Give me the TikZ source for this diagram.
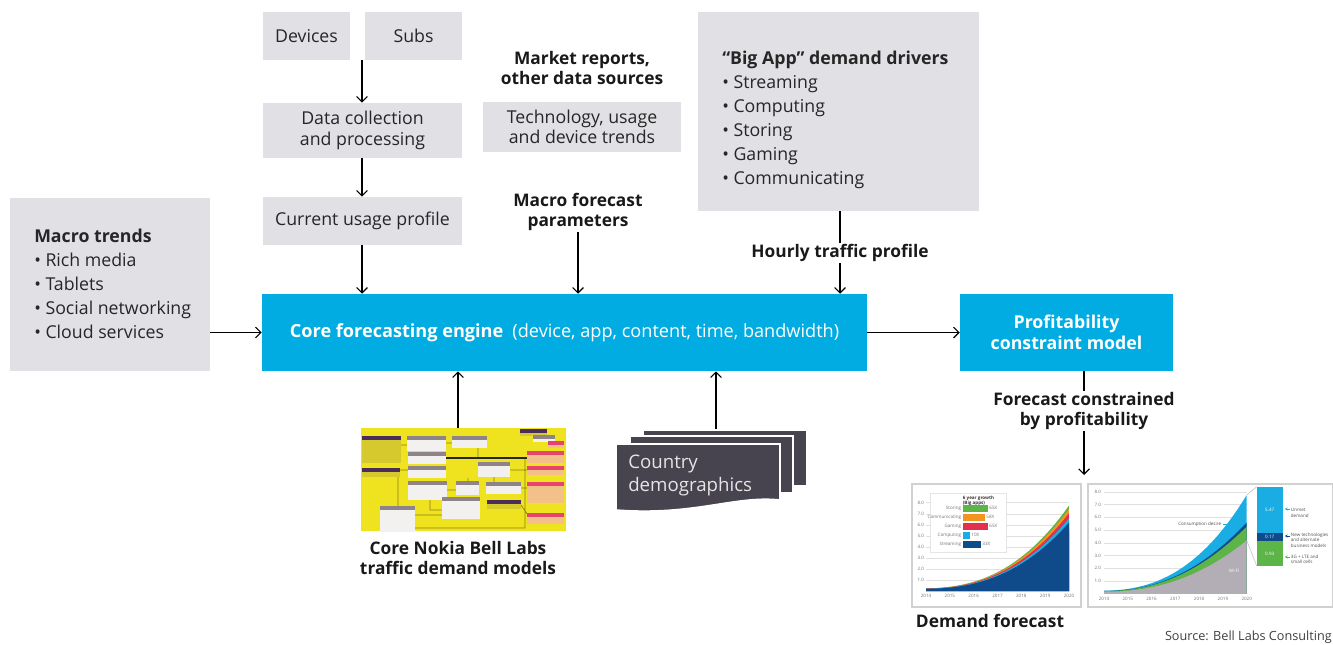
\documentclass[tikz,border=0pt]{standalone}
\usepackage{fontspec}
\setmainfont{Open Sans}
\usetikzlibrary{arrows.meta,fit}
\definecolor{boxgrey}{HTML}{E1E0E5}
\definecolor{nokcyan}{HTML}{00ACE1}
\definecolor{cardgrey}{HTML}{47434F}
\definecolor{cblue}{HTML}{0F4A8A}
\definecolor{ccyan}{HTML}{1AADE3}
\definecolor{cred}{HTML}{E3304F}
\definecolor{corange}{HTML}{F39321}
\definecolor{cgreen}{HTML}{5DB447}
\definecolor{cwifi}{HTML}{B3ADB6}
\definecolor{ymyel}{HTML}{EFE320}
\definecolor{ymp}{HTML}{4B2D5A}
\definecolor{ymo}{HTML}{D6C92E}
\definecolor{ymg}{HTML}{8E8388}
\definecolor{ymw}{HTML}{F3F0F0}
\definecolor{ympk}{HTML}{E5446D}
\definecolor{ymor}{HTML}{F4C08A}
\definecolor{ymline}{HTML}{8A7D1A}
\newcommand{\ymb}[6]{\fill[#6] (#1,#2) rectangle (#3,#4); \fill[#5] (#1,#2) rectangle (#3,{#2+4});}
\begin{document}
\begin{tikzpicture}[x=0.75pt,y=-0.75pt,
  declare function={T(\t)=0.25+0.115*\t*\t+0.0155*\t*\t*\t;},
  sz/.style 2 args={minimum width={#1*0.75pt}, minimum height={#2*0.75pt}},
  basefont/.style={font=\fontsize{13.3}{15.5}\selectfont},
  gbox/.style={fill=boxgrey, inner sep=0, align=center, basefont, text=black!85},
  cbox/.style={fill=nokcyan, inner sep=0, align=center, text=white},
  lbl/.style={font=\fontsize{13}{15}\selectfont\bfseries, align=center, inner sep=1pt, text=black!90},
  arr/.style={line width=0.9pt, -{Straight Barb[length=4pt,width=8pt]}},
  ln/.style={line width=0.9pt},
  tiny/.style={font=\fontsize{3.4}{4}\selectfont, text=black!55, inner sep=0.5pt},
  gridc/.style={draw=black!12, line width=0.3pt},
  frame/.style={draw=black!18, line width=0.8pt, inner sep=0},
]
\useasboundingbox (0,0) rectangle (1333,644);

% ---------- top-left chain ----------
\node[gbox, sz={87}{48}] (dev) at (306.5,36) {Devices};
\node[gbox, sz={97}{48}] (subs) at (413.5,36) {Subs};
\coordinate (j1) at (362,60);
\node[gbox, sz={199}{55}] (dc) at (362.5,130.5) {Data collection\\and processing};
\node[gbox, sz={199}{48}] (cu) at (362.5,221) {Current usage profile};

% ---------- middle column ----------
\node[lbl] (mr) at (582,68) {Market reports,\\other data sources};
\node[gbox, sz={198}{50}] (tech) at (582,127) {Technology, usage\\and device trends};
\node[lbl] (mfp) at (578,212) {Macro forecast\\parameters};

% ---------- big app ----------
\node[gbox, sz={281}{199}] (ba) at (838.5,111.5) {};
\node[anchor=north west, align=left, inner sep=0, font=\fontsize{13.3}{18}\selectfont, text=black!85] (batext) at (722,51)
  {\textbf{“Big App” demand drivers}\\• Streaming\\• Computing\\• Storing\\• Gaming\\• Communicating};
\node[lbl] (htp) at (840,253) {Hourly traffic profile};

% ---------- macro trends ----------
\node[gbox, sz={200}{173}] (mt) at (110,284.5) {};
\node[anchor=north west, align=left, inner sep=0, font=\fontsize{13.3}{18}\selectfont, text=black!85] (mttext) at (34,229)
  {\textbf{Macro trends}\\• Rich media\\• Tablets\\• Social networking\\• Cloud services};

% ---------- core engine ----------
\node[cbox, sz={605}{77}, font=\fontsize{13.6}{15}\selectfont] (core) at (564.5,332.5)
  {\textbf{Core forecasting engine}\enspace(device, app, content, time, bandwidth)};
\node[cbox, sz={213}{77}, font=\fontsize{13.3}{15.5}\selectfont\bfseries] (prof) at (1066.5,332.5)
  {Profitability\\constraint model};
\node[lbl] (fcp) at (1084,411) {Forecast constrained\\by profitability};
\coordinate (dtop) at (1084,475);

% ---------- arrows ----------
\draw[arr] (j1) -- (j1 |- dc.north);
\draw[arr] (dc.south -| j1) -- (j1 |- cu.north);
\draw[arr] (cu.south -| j1) -- (j1 |- core.north);
\draw[arr] (mfp.south) -- (mfp.south |- core.north);
\draw[ln] (ba.south -| htp) -- (htp.north);
\draw[arr] (htp.south) -- (htp.south |- core.north);
\draw[arr] (core.west -| mt.east) -- (core.west);
\draw[arr] (core.east) -- (prof.west);
\draw[ln] (fcp.north |- prof.south) -- (fcp.north);
\draw[arr] (fcp.south) -- (dtop);

% ---------- yellow model image ----------
\node[fill=ymyel, inner sep=0, fit={(361,428) (566,531)}] (ym) {};
\begin{scope}
\clip (361,428) rectangle (566,531);
\draw[ymline, line width=0.5pt] (400,470) -- (408,470) (401,445) -- (407,445) (446,443) -- (452,443)
  (478,448) -- (478,458) (430,500) -- (430,510) -- (442,510) (415,515) -- (442,515)
  (398,477) -- (398,520) -- (380,520) (494,477) -- (494,482) (510,470) -- (527,470)
  (521,488) -- (527,488) (521,505) -- (530,518) (468,478) -- (468,481) (447,490) -- (456,490)
  (525,458) -- (525,528) -- (400,528);
\draw[black!85, line width=1pt] (446,458) -- (527,458);
\ymb{362}{436}{401}{463}{ymp}{ymo}
\ymb{362}{468}{400}{477}{ymp}{ymo}
\ymb{407}{436}{446}{451}{ymg}{ymw}
\ymb{452}{436}{487}{448}{ymg}{ymw}
\ymb{408}{452}{446}{464}{ymg}{ymw}
\ymb{408}{466}{446}{478}{ymg}{ymw}
\ymb{408}{481}{447}{500}{ymg}{ymw}
\ymb{478}{462}{510}{477}{ymg}{ymw}
\ymb{456}{481}{479}{495}{ymg}{ymw}
\ymb{486}{482}{521}{494}{ymg}{ymw}
\ymb{442}{497}{480}{519}{ymg}{ymw}
\ymb{380}{506}{415}{533}{ymg}{ymw}
\ymb{487}{500}{521}{509}{ymp}{ymo}
\ymb{520}{429}{547}{436}{ymp}{ymo}
\ymb{533}{435}{555}{442}{ymg}{ymw}
\ymb{548}{441}{564}{448}{ympk}{ymor}
\ymb{527}{451}{564}{463}{ympk}{ymor}
\ymb{527}{466}{564}{475}{ympk}{ymor}
\ymb{527}{482}{564}{503}{ympk}{ymor}
\ymb{527}{513}{564}{524}{ympk}{ymor}
\end{scope}
\node[lbl] (cnb) at (458,558) {Core Nokia Bell Labs\\traffic demand models};
\draw[arr] (ym.north -| cnb) -- (cnb |- core.south);

% ---------- country demographics ----------
\node[fill=cardgrey, draw=white, line width=1.2pt, inner sep=0, fit={(643,430) (807,486)}] (cdback) {};
\node[fill=cardgrey, draw=white, line width=1.2pt, inner sep=0, fit={(630,436) (793,493)}] (cdmid) {};
\fill[cardgrey, draw=white, line width=1.2pt] (616,444) -- (780,444) -- (780,500)
  .. controls (735,495) and (695,516) .. (616,510) -- cycle;
\node[anchor=north west, align=left, inner sep=0, text=white!90!black, font=\fontsize{14}{17.25}\selectfont] (cdtext) at (628,455)
  {Country\\demographics};
\draw[arr] (cdback.north -| 716,0) -- (716,0 |- core.south);

% ---------- chart 1 ----------
\node[frame, fit={(912,484) (1081,607)}] (ch1) {};
\foreach \v in {1,...,8} {
  \draw[gridc] (926,{591-11.04*\v}) -- (1069,{591-11.04*\v});
  \node[tiny, anchor=east] at (925,{591-11.04*\v}) {\v.0};
}
\foreach \i/\yr in {0/2014,1/2015,2/2016,3/2017,4/2018,5/2019,6/2020}
  \node[tiny] at ({926+23.83*\i},596) {\yr};
\foreach \f/\c in {1.0/cgreen,0.96/corange,0.91/cred,0.85/ccyan,0.8/cblue}
  \fill[\c] (926,591) -- plot[domain=0:6,samples=30] ({926+23.83*\x},{591-11.04*\f*T(\x)}) -- (1069,591) -- cycle;
\fill[white] (930,493) rectangle (1006,552);
\draw[black!10, line width=0.3pt] (930,493) rectangle (1006,552);
\node[tiny, anchor=north west, align=left, text=black!80, font=\fontsize{3.4}{4}\selectfont\bfseries] at (962,495) {6 year growth\\(Big apps)};
\foreach \yy/\nm/\len/\c/\val in {508/Storing/988/cgreen/65X, 517/Communicating/985/corange/58X, 526/Gaming/988/cred/65X, 535/Computing/970/ccyan/10X, 544/Streaming/981/cblue/33X} {
  \node[tiny, anchor=east] at (962,\yy) {\nm};
  \fill[\c] (963,{\yy-3.5}) rectangle (\len,{\yy+3.5});
  \node[tiny, anchor=west] at ({\len+0.5},\yy) {\val};
}

% ---------- chart 2 ----------
\node[frame, fit={(1088,484) (1333,607)}] (ch2) {};
\foreach \v in {1,...,8} {
  \draw[gridc] (1104,{593.8-12.76*\v}) -- (1246.7,{593.8-12.76*\v});
  \node[tiny, anchor=east] at (1102,{593.8-12.76*\v}) {\v.0};
}
\foreach \i/\yr in {0/2014,1/2015,2/2016,3/2017,4/2018,5/2019,6/2020}
  \node[tiny] at ({1104+23.78*\i},598.5) {\yr};
\fill[ccyan] (1104,593.8) -- plot[domain=0:6,samples=30] ({1104+23.78*\x},{593.8-12.76*T(\x)}) -- (1246.7,593.8) -- cycle;
\fill[cblue] (1104,593.8) -- plot[domain=0:6,samples=30] ({1104+23.78*\x},{593.8-12.76*(0.89-0.028*\x)*T(\x)}) -- (1246.7,593.8) -- cycle;
\fill[cgreen] (1104,593.8) -- plot[domain=0:6,samples=30] ({1104+23.78*\x},{593.8-12.76*(0.86-0.03*\x)*T(\x)}) -- (1246.7,593.8) -- cycle;
\fill[cwifi] (1104,593.8) -- plot[domain=0:6,samples=30] ({1104+23.78*\x},{593.8-12.76*(0.66-0.02*\x)*T(\x)}) -- (1246.7,593.8) -- cycle;
\node[tiny, anchor=east, text=black!70] at (1222,524) {Consumption desire};
\draw[ccyan, line width=0.6pt, -{Stealth[length=2pt,width=2.5pt]}] (1223,524) -- (1231,524);
\node[tiny, text=white] at (1234,571) {Wi-Fi};
\draw[black!25, line width=0.4pt] (1246.7,495) -- (1256.7,486.7) (1246.7,540.5) -- (1256.7,566);
\fill[ccyan] (1256.7,486.7) rectangle (1282.7,532.7);
\fill[cblue] (1256.7,532.7) rectangle (1282.7,541);
\fill[cgreen] (1256.7,541) rectangle (1282.7,566);
\node[tiny, text=white] at (1269.7,509.7) {5.47};
\node[tiny, text=white] at (1269.7,536.8) {0.17};
\node[tiny, text=white] at (1269.7,553.5) {0.93};
\draw[ccyan, line width=0.6pt, -{Stealth[length=2pt,width=2.5pt]}] (1290,509) -- (1285,509);
\node[tiny, anchor=west, align=left, text=black!70] at (1290,513) {Unmet\\demand};
\draw[cblue, line width=0.6pt, -{Stealth[length=2pt,width=2.5pt]}] (1290,536) -- (1285,536);
\node[tiny, anchor=west, align=left, text=black!70] at (1290,540) {New technologies\\and alternate\\business models};
\draw[cgreen, line width=0.6pt, -{Stealth[length=2pt,width=2.5pt]}] (1290,557) -- (1285,557);
\node[tiny, anchor=west, align=left, text=black!70] at (1290,559) {3G + LTE and\\small cells};

\node[lbl] (df) at (990,621) {Demand forecast};
\node[anchor=base east, inner sep=0, font=\fontsize{9.5}{11}\selectfont, text=black!75] (src) at (1332,640) {Source: Bell Labs Consulting};
\end{tikzpicture}
\end{document}
